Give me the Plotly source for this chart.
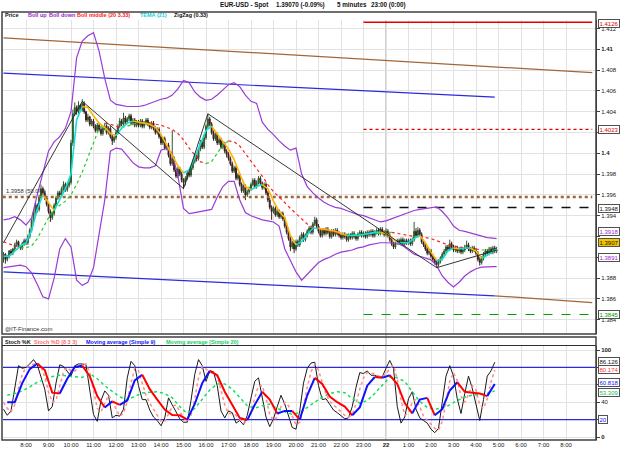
import pandas as pd
import plotly.graph_objects as go

D1 = "2009-10-21"
D2 = "2009-10-22"

# ---------------- price bars (5 minutes, 07:00 day 1 -> 04:55 day 2) ----------------
FIRST_OPEN = 1.3900
CLOSE = [
    1.3903, 1.3898, 1.3901, 1.3906, 1.3904, 1.3908, 1.3912, 1.3915, 1.3911, 1.3909, 1.3913, 1.3916,
    1.3914, 1.3920, 1.3926, 1.3935, 1.3942, 1.3950, 1.3946, 1.3958, 1.3966, 1.3962, 1.3957, 1.3951,
    1.3944, 1.3938, 1.3942, 1.3950, 1.3957, 1.3962, 1.3960, 1.3966, 1.3970, 1.3965, 1.3969, 1.3972,
    1.4010, 1.4038, 1.4044, 1.4040, 1.4046, 1.4042, 1.4048, 1.4040, 1.4032, 1.4035, 1.4028, 1.4031,
    1.4026, 1.4022, 1.4027, 1.4023, 1.4019, 1.4024, 1.4026, 1.4020, 1.4024, 1.4016, 1.4012, 1.4015,
    1.4020, 1.4026, 1.4031, 1.4028, 1.4034, 1.4030, 1.4033, 1.4036, 1.4029, 1.4032, 1.4027, 1.4030,
    1.4027, 1.4031, 1.4026, 1.4029, 1.4032, 1.4028, 1.4025, 1.4029, 1.4024, 1.4020, 1.4023, 1.4016,
    1.4010, 1.4014, 1.4005, 1.4008, 1.3998, 1.3990, 1.3995, 1.3984, 1.3978, 1.3985, 1.3980, 1.3974,
    1.3972, 1.3976, 1.3981, 1.3979, 1.3986, 1.3992, 1.3998, 1.3995, 1.4004, 1.4010, 1.4006, 1.4015,
    1.4026, 1.4033, 1.4028, 1.4020, 1.4014, 1.4018, 1.4010, 1.4013, 1.4006, 1.4009, 1.4002, 1.3999,
    1.3995, 1.3990, 1.3983, 1.3986, 1.3976, 1.3979, 1.3970, 1.3964, 1.3968, 1.3960, 1.3963, 1.3966,
    1.3970, 1.3974, 1.3968, 1.3972, 1.3976, 1.3971, 1.3967, 1.3970, 1.3962, 1.3955, 1.3948, 1.3944,
    1.3947, 1.3941, 1.3944, 1.3939, 1.3942, 1.3937, 1.3930, 1.3924, 1.3918, 1.3910, 1.3914, 1.3908,
    1.3915, 1.3912, 1.3919, 1.3922, 1.3917, 1.3921, 1.3925, 1.3928, 1.3924, 1.3932, 1.3936, 1.3930,
    1.3925, 1.3921, 1.3926, 1.3923, 1.3927, 1.3924, 1.3920, 1.3925, 1.3922, 1.3926, 1.3923, 1.3921,
    1.3919, 1.3922, 1.3920, 1.3917, 1.3921, 1.3919, 1.3923, 1.3920, 1.3918, 1.3922, 1.3924, 1.3921,
    1.3923, 1.3920, 1.3924, 1.3922, 1.3925, 1.3921, 1.3924, 1.3926, 1.3923, 1.3927, 1.3924, 1.3922,
    1.3925, 1.3921, 1.3917, 1.3913, 1.3910, 1.3914, 1.3916, 1.3914, 1.3917, 1.3913, 1.3916, 1.3914,
    1.3916, 1.3913, 1.3917, 1.3925, 1.3921, 1.3926, 1.3922, 1.3915, 1.3912, 1.3908, 1.3904, 1.3906,
    1.3901, 1.3898, 1.3895, 1.3893, 1.3896, 1.3899, 1.3903, 1.3906, 1.3910, 1.3908, 1.3913, 1.3910,
    1.3907, 1.3909, 1.3906, 1.3908, 1.3905, 1.3907, 1.3910, 1.3912, 1.3908, 1.3906, 1.3909, 1.3907,
    1.3904, 1.3898, 1.3895, 1.3899, 1.3903, 1.3906, 1.3904, 1.3908, 1.3905, 1.3909, 1.3906, 1.3907,
]
HIGH = [
    1.3905, 1.3904, 1.3902, 1.3907, 1.3908, 1.3909, 1.3914, 1.3917, 1.3916, 1.3912, 1.3915, 1.3918,
    1.3918, 1.3922, 1.3928, 1.3937, 1.3945, 1.3953, 1.3952, 1.3960, 1.3970, 1.3968, 1.3964, 1.3959,
    1.3953, 1.3946, 1.3944, 1.3952, 1.3959, 1.3964, 1.3964, 1.3968, 1.3973, 1.3972, 1.3971, 1.3975,
    1.4013, 1.4042, 1.4049, 1.4046, 1.4050, 1.4047, 1.4052, 1.4050, 1.4041, 1.4038, 1.4036, 1.4033,
    1.4033, 1.4028, 1.4029, 1.4029, 1.4025, 1.4026, 1.4029, 1.4028, 1.4026, 1.4026, 1.4018, 1.4017,
    1.4022, 1.4028, 1.4034, 1.4033, 1.4039, 1.4036, 1.4035, 1.4038, 1.4038, 1.4034, 1.4034, 1.4032,
    1.4032, 1.4033, 1.4033, 1.4031, 1.4034, 1.4034, 1.4030, 1.4031, 1.4031, 1.4026, 1.4025, 1.4025,
    1.4018, 1.4016, 1.4016, 1.4010, 1.4010, 1.4000, 1.4022, 1.3997, 1.3986, 1.3987, 1.3987, 1.3982,
    1.3976, 1.3978, 1.3983, 1.3983, 1.3988, 1.3994, 1.4000, 1.4000, 1.4006, 1.4013, 1.4012, 1.4018,
    1.4028, 1.4038, 1.4035, 1.4030, 1.4022, 1.4020, 1.4020, 1.4015, 1.4015, 1.4011, 1.4011, 1.4004,
    1.4001, 1.3997, 1.3992, 1.3988, 1.3988, 1.3981, 1.3981, 1.3972, 1.3970, 1.3970, 1.3965, 1.3968,
    1.3972, 1.3976, 1.3976, 1.3974, 1.3978, 1.3978, 1.3973, 1.3972, 1.3972, 1.3964, 1.3957, 1.3950,
    1.3949, 1.3949, 1.3946, 1.3946, 1.3944, 1.3944, 1.3939, 1.3932, 1.3926, 1.3920, 1.3916, 1.3916,
    1.3917, 1.3917, 1.3921, 1.3924, 1.3924, 1.3923, 1.3927, 1.3930, 1.3930, 1.3934, 1.3939, 1.3938,
    1.3932, 1.3927, 1.3928, 1.3928, 1.3929, 1.3929, 1.3926, 1.3927, 1.3927, 1.3928, 1.3928, 1.3925,
    1.3923, 1.3924, 1.3924, 1.3922, 1.3923, 1.3923, 1.3925, 1.3925, 1.3922, 1.3924, 1.3926, 1.3926,
    1.3925, 1.3925, 1.3926, 1.3926, 1.3927, 1.3927, 1.3926, 1.3928, 1.3928, 1.3929, 1.3929, 1.3926,
    1.3928, 1.3927, 1.3923, 1.3919, 1.3915, 1.3916, 1.3918, 1.3918, 1.3919, 1.3919, 1.3918, 1.3918,
    1.3918, 1.3918, 1.3919, 1.3934, 1.3928, 1.3929, 1.3928, 1.3924, 1.3917, 1.3914, 1.3910, 1.3908,
    1.3908, 1.3903, 1.3900, 1.3897, 1.3898, 1.3901, 1.3905, 1.3908, 1.3912, 1.3912, 1.3917, 1.3915,
    1.3912, 1.3911, 1.3911, 1.3910, 1.3910, 1.3909, 1.3912, 1.3916, 1.3914, 1.3910, 1.3911, 1.3911,
    1.3909, 1.3906, 1.3900, 1.3901, 1.3905, 1.3908, 1.3908, 1.3910, 1.3910, 1.3911, 1.3911, 1.3910,
]
LOW = [
    1.3895, 1.3894, 1.3896, 1.3899, 1.3902, 1.3902, 1.3906, 1.3910, 1.3909, 1.3907, 1.3907, 1.3911,
    1.3912, 1.3912, 1.3918, 1.3924, 1.3933, 1.3940, 1.3943, 1.3944, 1.3956, 1.3960, 1.3955, 1.3949,
    1.3942, 1.3934, 1.3936, 1.3940, 1.3948, 1.3955, 1.3958, 1.3958, 1.3964, 1.3963, 1.3963, 1.3967,
    1.3970, 1.4007, 1.4036, 1.4037, 1.4038, 1.4040, 1.4040, 1.4038, 1.4030, 1.4030, 1.4026, 1.4026,
    1.4024, 1.4020, 1.4020, 1.4021, 1.4017, 1.4017, 1.4022, 1.4018, 1.4018, 1.4014, 1.4008, 1.4010,
    1.4013, 1.4018, 1.4024, 1.4026, 1.4026, 1.4028, 1.4028, 1.4031, 1.4027, 1.4027, 1.4025, 1.4025,
    1.4025, 1.4025, 1.4024, 1.4024, 1.4027, 1.4026, 1.4023, 1.4023, 1.4022, 1.4018, 1.4018, 1.4014,
    1.4008, 1.4008, 1.4003, 1.4003, 1.3996, 1.3988, 1.3988, 1.3982, 1.3976, 1.3976, 1.3978, 1.3972,
    1.3966, 1.3969, 1.3974, 1.3977, 1.3977, 1.3984, 1.3990, 1.3992, 1.3993, 1.4002, 1.4004, 1.4004,
    1.4013, 1.4024, 1.4026, 1.4018, 1.4012, 1.4012, 1.4008, 1.4008, 1.4004, 1.4004, 1.4000, 1.3996,
    1.3993, 1.3988, 1.3981, 1.3981, 1.3974, 1.3974, 1.3968, 1.3962, 1.3962, 1.3955, 1.3958, 1.3961,
    1.3964, 1.3968, 1.3966, 1.3966, 1.3970, 1.3969, 1.3965, 1.3965, 1.3960, 1.3953, 1.3946, 1.3936,
    1.3942, 1.3939, 1.3939, 1.3937, 1.3937, 1.3935, 1.3928, 1.3922, 1.3916, 1.3906, 1.3908, 1.3904,
    1.3906, 1.3910, 1.3910, 1.3917, 1.3915, 1.3915, 1.3919, 1.3923, 1.3922, 1.3922, 1.3930, 1.3928,
    1.3923, 1.3919, 1.3919, 1.3921, 1.3921, 1.3922, 1.3918, 1.3918, 1.3920, 1.3920, 1.3921, 1.3919,
    1.3917, 1.3917, 1.3918, 1.3915, 1.3915, 1.3917, 1.3917, 1.3918, 1.3916, 1.3916, 1.3920, 1.3919,
    1.3919, 1.3918, 1.3918, 1.3920, 1.3920, 1.3919, 1.3919, 1.3922, 1.3921, 1.3921, 1.3922, 1.3920,
    1.3920, 1.3919, 1.3915, 1.3911, 1.3908, 1.3908, 1.3912, 1.3912, 1.3912, 1.3911, 1.3911, 1.3912,
    1.3912, 1.3911, 1.3911, 1.3915, 1.3919, 1.3919, 1.3920, 1.3913, 1.3910, 1.3906, 1.3902, 1.3902,
    1.3899, 1.3896, 1.3893, 1.3890, 1.3891, 1.3894, 1.3897, 1.3901, 1.3904, 1.3906, 1.3906, 1.3908,
    1.3905, 1.3905, 1.3904, 1.3904, 1.3903, 1.3903, 1.3905, 1.3908, 1.3906, 1.3904, 1.3904, 1.3905,
    1.3902, 1.3896, 1.3892, 1.3893, 1.3897, 1.3901, 1.3902, 1.3902, 1.3903, 1.3903, 1.3904, 1.3904,
]

# ---------------- price indicators (every 15 minutes + last bar) ----------------
BOLL_UP = [
    1.3936, 1.3937, 1.3939, 1.3936, 1.3931, 1.3938, 1.3960, 1.3982, 1.4002, 1.4011,
    1.4016, 1.4024, 1.4040, 1.4092, 1.4108, 1.4113, 1.4116, 1.4098, 1.4072, 1.4051,
    1.4047, 1.4046, 1.4045, 1.4045, 1.4045, 1.4046, 1.4048, 1.4050, 1.4052, 1.4053,
    1.4056, 1.4062, 1.4070, 1.4068, 1.4059, 1.4054, 1.4051, 1.4052, 1.4056, 1.4061,
    1.4066, 1.4068, 1.4064, 1.4056, 1.4050, 1.4048, 1.4030, 1.4023, 1.4018, 1.4012,
    1.4007, 1.4003, 1.4005, 1.3980, 1.3968, 1.3962, 1.3957, 1.3953, 1.3950, 1.3948,
    1.3947, 1.3945, 1.3943, 1.3941, 1.3940, 1.3938, 1.3936, 1.3934, 1.3935, 1.3937,
    1.3939, 1.3941, 1.3943, 1.3945, 1.3946, 1.3947, 1.3948, 1.39485, 1.3944, 1.3938,
    1.3930, 1.3926, 1.3925, 1.39235, 1.3922, 1.3920, 1.3919, 1.39185, 1.3918,
]
BOLL_DN = [
    1.3890, 1.3891, 1.3892, 1.38925, 1.3891, 1.3885, 1.3874, 1.3862, 1.3860, 1.3880,
    1.3908, 1.3918, 1.3910, 1.3878, 1.3873, 1.3876, 1.3890, 1.3922, 1.3955, 1.4002,
    1.4005, 1.4004, 1.3997, 1.3991, 1.3987, 1.3986, 1.3986, 1.3988, 1.4003, 1.4005,
    1.4000, 1.3978, 1.3947, 1.3942, 1.3943, 1.3944, 1.3945, 1.3946, 1.3958, 1.3968,
    1.3973, 1.3973, 1.3955, 1.3943, 1.3940, 1.3938, 1.3936, 1.3935, 1.3934, 1.3930,
    1.3908, 1.3897, 1.3886, 1.3878, 1.3884, 1.3890, 1.3895, 1.3898, 1.3900, 1.3903,
    1.3905, 1.3906, 1.3907, 1.3909, 1.3910, 1.3912, 1.3913, 1.3914, 1.3914, 1.3914,
    1.39135, 1.3911, 1.3907, 1.3903, 1.3901, 1.3899, 1.38975, 1.3892, 1.3882, 1.3876,
    1.38715, 1.3876, 1.3882, 1.3886, 1.3889, 1.38905, 1.3891, 1.3891, 1.3891,
]
BOLL_MID = [
    1.3915, 1.3913, 1.3911, 1.3909, 1.3909, 1.3911, 1.3918, 1.3928, 1.3938, 1.3946,
    1.3950, 1.3954, 1.3960, 1.3970, 1.3982, 1.3996, 1.4010, 1.4024, 1.4029, 1.4028,
    1.4026, 1.4025, 1.4026, 1.4028, 1.4029, 1.4029, 1.4029, 1.4028, 1.4027, 1.4025,
    1.4023, 1.4019, 1.4013, 1.4005, 1.3998, 1.3992, 1.3990, 1.3992, 1.4000, 1.4008,
    1.4012, 1.4011, 1.4007, 1.4000, 1.3993, 1.3986, 1.3978, 1.3970, 1.3963, 1.3958,
    1.3952, 1.3947, 1.3942, 1.3937, 1.3932, 1.3929, 1.3927, 1.3926, 1.3925, 1.3924,
    1.3923, 1.3922, 1.3922, 1.3922, 1.3922, 1.3923, 1.3923, 1.3923, 1.3924, 1.3924,
    1.3923, 1.3922, 1.3921, 1.3920, 1.3920, 1.3919, 1.3918, 1.3916, 1.3914, 1.3912,
    1.3911, 1.3910, 1.3909, 1.3908, 1.3908, 1.3907, 1.3907, 1.3907, 1.3907,
]
TEMA = [
    1.3901, 1.3901, 1.3906, 1.3911, 1.3914, 1.3926, 1.3946, 1.3960, 1.3952, 1.3945,
    1.3956, 1.3966, 1.3980, 1.4032, 1.4045, 1.4044, 1.4036, 1.4029, 1.4025, 1.4019,
    1.4017, 1.4024, 1.4029, 1.4031, 1.4030, 1.4029, 1.4028, 1.4025, 1.4018, 1.4008,
    1.3998, 1.3988, 1.3981, 1.3984, 1.3996, 1.4010, 1.4022, 1.4026, 1.4019, 1.4011,
    1.4004, 1.3994, 1.3980, 1.3968, 1.3965, 1.3968, 1.3970, 1.3966, 1.3954, 1.3944,
    1.3938, 1.3921, 1.3912, 1.3915, 1.3922, 1.3928, 1.3928, 1.3927, 1.3926, 1.3925,
    1.3923, 1.3921, 1.3921, 1.3921, 1.3922, 1.3923, 1.3924, 1.3924, 1.3923, 1.3919,
    1.3914, 1.3914, 1.3914, 1.3918, 1.3921, 1.3914, 1.3905, 1.3897, 1.3898, 1.3906,
    1.3909, 1.3908, 1.3909, 1.3909, 1.3906, 1.3899, 1.3902, 1.3906, 1.3907,
]
ZIGZAG_T = [f"{D1} 07:00", f"{D1} 10:30", f"{D1} 15:00", f"{D1} 16:05", f"{D2} 02:15", f"{D2} 04:55"]
ZIGZAG_V = [1.3914, 1.4050, 1.3966, 1.4038, 1.3890, 1.3907]

# regression channel lines (start/end time, start/end price)
CHANNELS = [
    ([f"{D1} 07:00", f"{D2} 09:10"], [1.4111, 1.40775], "#a0663a"),
    ([f"{D2} 04:50", f"{D2} 09:10"], [1.3863, 1.38565], "#a0663a"),
    ([f"{D1} 07:00", f"{D2} 04:50"], [1.4077, 1.4054], "#2a2ae0"),
    ([f"{D1} 07:00", f"{D2} 04:50"], [1.3886, 1.3863], "#2a2ae0"),
]
# horizontal levels: value, start time, color, dash, width
LEVELS = [
    (1.4126, f"{D1} 23:00", "#e00000", "solid", 1.3),
    (1.4023, f"{D1} 23:00", "#e00000", "dot", 1.3),
    (1.3948, f"{D1} 23:00", "#101010", "dash", 1.5),
    (1.3845, f"{D1} 23:00", "#00a000", "dash", 1.2),
    (1.3958, f"{D1} 06:58", "#a0663a", "dot", 2.5),
]
LEVEL_END = f"{D2} 09:10"

# ---------------- stochastic panel ----------------
STOCH_K = [32, 25, 30, 55, 82, 79, 80, 84, 89, 83, 70, 55, 30, 35, 62, 83, 81, 76, 70, 82,
           84, 84, 83, 54, 26, 18, 42, 53, 48, 22, 25, 24, 32, 68, 87, 82, 59, 43, 43, 31,
           23, 19, 13, 22, 45, 37, 29, 21, 17, 17, 42, 72, 89, 82, 64, 76, 75, 59, 30, 22,
           30, 28, 16, 19, 14, 25, 45, 64, 68, 44, 23, 12, 21, 35, 48, 38, 23, 11, 9, 30,
           62, 79, 85, 86, 59, 43, 44, 37, 31, 28, 25, 21, 22, 35, 57, 74, 73, 76, 71, 71,
           69, 69, 79, 88, 79, 35, 16, 23, 44, 52, 32, 22, 19, 16, 9, 5, 10, 40, 70, 82,
           70, 44, 27, 50, 70, 56, 37, 19, 43, 70, 76, 86]
STOCH_D = [40, 33, 29, 37, 56, 72, 80, 81, 84, 85, 81, 69, 52, 40, 42, 60, 75, 80, 76, 76,
           79, 83, 84, 74, 54, 33, 29, 38, 48, 41, 32, 24, 27, 41, 62, 79, 76, 61, 48, 39,
           32, 24, 18, 18, 27, 35, 37, 29, 22, 18, 25, 44, 68, 81, 78, 74, 72, 70, 55, 37,
           27, 27, 25, 21, 16, 19, 28, 45, 59, 59, 45, 26, 19, 23, 35, 40, 36, 24, 14, 17,
           34, 57, 75, 83, 77, 63, 49, 41, 37, 32, 28, 25, 23, 26, 38, 55, 68, 74, 73, 73,
           70, 70, 72, 79, 82, 67, 43, 25, 28, 40, 43, 35, 24, 19, 15, 10, 8, 18, 40, 64,
           74, 65, 47, 40, 49, 59, 54, 37, 33, 44, 63, 77]
MA9 = [40, 40, 62, 78, 84.5, 77, 51, 50, 67, 80.5, 82, 70, 47, 34, 41, 37, 42, 65, 71.5, 55,
       43, 31.5, 25.3, 25, 20, 38, 62, 76, 71, 52, 37, 22, 19.5, 37, 52, 43, 27, 30, 30, 20,
       48, 68, 61, 46.5, 40, 35, 25, 34, 59, 69, 68, 71, 61, 39, 27.2, 43, 45, 25, 32, 53.5,
       63, 52, 51, 50, 47, 61]
MA20 = [48, 50, 53, 57.5, 63, 66, 69.5, 71, 70, 69, 68.5, 73, 67, 59, 52, 46, 43, 47, 50.5, 51.5,
        52, 50, 45, 35, 27, 33, 44, 54, 61, 61, 55, 46, 36, 33, 36, 38, 33, 29, 26, 28,
        34, 40, 46, 50, 52, 51, 44, 39, 42, 50, 60, 69, 68, 64, 52, 41, 34, 32, 33, 37,
        42, 46, 48, 49, 50, 53]
STOCH_LEVELS = [80, 20]

# tick labels (labels hidden behind value boxes are left blank, as in the reference)
PRICE_TICKS = [1.384, 1.386, 1.388, 1.390, 1.392, 1.394, 1.396, 1.398, 1.400, 1.402,
               1.404, 1.406, 1.408, 1.410, 1.412]
PRICE_LABELS = ["1.384", "1.386", "1.388", "", "", "1.394", "1.396", "1.398", "<b>1.4</b>",
                "", "1.404", "1.406", "1.408", "<b>1.41</b>", "1.412"]
STOCH_TICKS = [0, 20, 40, 60, 80, 100]
STOCH_LABELS = ["<b>0</b>", "", "40", "", "", "<b>100</b>"]
HOUR_LABELS = ["8:00", "9:00", "10:00", "11:00", "12:00", "13:00", "14:00", "15:00", "16:00",
               "17:00", "18:00", "19:00", "20:00", "21:00", "22:00", "23:00", "<b>22</b>",
               "1:00", "2:00", "3:00", "4:00", "5:00", "6:00", "7:00", "8:00"]

# ---------------- build ----------------
BAR_T = pd.date_range(f"{D1} 07:00", periods=len(CLOSE), freq="5min")
OPEN = [FIRST_OPEN] + CLOSE[:-1]
IND_T = list(pd.date_range(f"{D1} 07:00", periods=len(BOLL_UP) - 1, freq="15min")) + [BAR_T[-1]]
K_T = pd.date_range(f"{D1} 07:00", periods=len(STOCH_K), freq="10min")
MA_T = pd.date_range(f"{D1} 07:10", periods=len(MA9), freq="20min")
HOUR_T = pd.date_range(f"{D1} 08:00", periods=len(HOUR_LABELS), freq="h")
X_RANGE = [f"{D1} 06:58:40", f"{D2} 09:20"]

W, H = 625, 455
def px(x):
    return x / W
def py(y):
    return 1 - y / H

FONT = "Arial, Liberation Sans, sans-serif"
fig = go.Figure()

def line(x, y, color, width=1, dash="solid", ax="2"):
    fig.add_trace(go.Scatter(x=x, y=y, mode="lines", line=dict(color=color, width=width, dash=dash),
                             xaxis="x" + ("2" if ax == "2" else ""), yaxis="y" + ("2" if ax == "2" else ""),
                             hoverinfo="skip", showlegend=False))

def dir_line(t, v, up, down, width, dash, ax):
    t = list(t)
    cur, xs, ys = None, [], []
    for i in range(len(v) - 1):
        col = up if v[i + 1] >= v[i] else down
        if col != cur:
            if xs:
                line(xs, ys, cur, width, dash, ax)
            cur, xs, ys = col, [t[i]], [v[i]]
        xs.append(t[i + 1]); ys.append(v[i + 1])
    if xs:
        line(xs, ys, cur, width, dash, ax)

for ts, vs, col in CHANNELS:
    line(ts, vs, col, 1.2)
for val, start, col, dash, wdt in LEVELS:
    line([start, LEVEL_END], [val, val], col, wdt, dash)

fig.add_trace(go.Candlestick(
    x=BAR_T, open=OPEN, high=HIGH, low=LOW, close=CLOSE, xaxis="x2", yaxis="y2",
    increasing=dict(line=dict(color="#2d5a2d", width=1), fillcolor="#1e7a1e"),
    decreasing=dict(line=dict(color="#3a2020", width=1), fillcolor="#5a0f0f"),
    whiskerwidth=0, showlegend=False, hoverinfo="skip"))

line(IND_T, BOLL_UP, "#9a3bd6", 1.2)
line(IND_T, BOLL_DN, "#9a3bd6", 1.2)
dir_line(IND_T, BOLL_MID, "#22cc22", "#ff2020", 1.2, "dot", "2")
dir_line(IND_T, TEMA, "#10e0d8", "#ffb400", 1.6, "solid", "2")
line(ZIGZAG_T, ZIGZAG_V, "#202020", 0.9)

for lv in STOCH_LEVELS:
    line(X_RANGE, [lv, lv], "#2a2ae0", 1.2, "solid", "1")
line(list(K_T), STOCH_K, "#1a1a1a", 1, "solid", "1")
line(list(K_T), STOCH_D, "#ff8a8a", 1.5, "dot", "1")
line(list(MA_T), MA20, "#10e060", 1.5, "dot", "1")
dir_line(MA_T, MA9, "#1010ff", "#ff0000", 2, "solid", "1")

grid = "#e2e2e2"
fig.update_layout(
    width=W, height=H, margin=dict(l=0, r=0, t=0, b=0),
    paper_bgcolor="white", plot_bgcolor="white", showlegend=False,
    font=dict(family=FONT, size=6, color="#202020"),
    xaxis=dict(domain=[px(3), px(596)], range=X_RANGE, anchor="y", tickvals=HOUR_T, ticktext=HOUR_LABELS,
               showgrid=True, gridcolor=grid, gridwidth=1, ticks="", tickfont=dict(size=6),
               zeroline=False, showline=False),
    xaxis2=dict(domain=[px(3), px(596)], matches="x", anchor="y2", tickvals=HOUR_T, showticklabels=False,
                showgrid=True, gridcolor=grid, gridwidth=1, ticks="", zeroline=False, showline=False,
                rangeslider=dict(visible=False)),
    yaxis=dict(domain=[py(440), py(346)], range=[-3.4, 104.6], side="right", anchor="x",
               tickvals=STOCH_TICKS, ticktext=STOCH_LABELS, ticks="outside", ticklen=3, tickcolor="#404040",
               showline=True, linecolor="#404040", linewidth=1, showgrid=True, gridcolor=grid,
               zeroline=False, tickfont=dict(size=6)),
    yaxis2=dict(domain=[py(334), py(20)], range=[1.382625, 1.412817], side="right", anchor="x2",
                tickvals=PRICE_TICKS, ticktext=PRICE_LABELS, ticks="outside", ticklen=3, tickcolor="#404040",
                showline=True, linecolor="#404040", linewidth=1, showgrid=True, gridcolor=grid,
                zeroline=False, tickfont=dict(size=6)),
)

shapes = [
    dict(type="line", xref="x", yref="paper", x0=f"{D2} 00:00", x1=f"{D2} 00:00", y0=py(440), y1=py(20),
         line=dict(color="#a0a0a0", width=1), layer="below"),
    dict(type="rect", xref="paper", yref="paper", x0=px(2), x1=px(596), y0=py(334), y1=py(12),
         line=dict(color="#404040", width=1.5)),
    dict(type="rect", xref="paper", yref="paper", x0=px(2), x1=px(596), y0=py(440), y1=py(337),
         line=dict(color="#404040", width=1.5)),
    dict(type="line", xref="paper", yref="paper", x0=px(2), x1=px(596), y0=py(345.5), y1=py(345.5),
         line=dict(color="#303030", width=1.2)),
]
fig.update_layout(shapes=shapes)

ann = []
def text(x, y, s, color="#202020", size=6, bold=False):
    ann.append(dict(x=px(x), y=py(y), xref="paper", yref="paper", text=f"<b>{s}</b>" if bold else s,
                    showarrow=False, xanchor="left", yanchor="middle",
                    font=dict(family=FONT, size=size, color=color)))

text(218, 5, "EUR-USD - Spot", "#111", 6.3, True)
text(274, 5, "1.39070 (-0.09%)", "#111", 6.3, True)
text(335, 5, "5 minutes", "#111", 6.3, True)
text(369, 5, "23:00 (0:00)", "#111", 6.3, True)
for s, x, c in [("Price", 3, "#111"), ("Boll up", 26, "#9a1fd0"), ("Boll down", 47, "#9a1fd0"),
                ("Boll middle (20 3.33)", 75, "#ff2020"), ("TEMA (21)", 138, "#10d0d0"),
                ("ZigZag (0.33)", 172, "#111")]:
    text(x, 15.5, s, c, 5.5, True)
for s, x, c in [("Stoch %K", 3, "#111"), ("Stoch %D (8 3 3)", 32, "#ff6a6a"),
                ("Moving average (Simple 9)", 84, "#1010ff"), ("Moving average (Simple 20)", 164, "#10d060")]:
    text(x, 341.5, s, c, 5.5, True)
text(3, 329, "@IT-Finance.com", "#303030", 6)
ann.append(dict(x=px(4), y=1.3958, xref="paper", yref="y2", text="1.3958 (50.0%)", showarrow=False,
                xanchor="left", yanchor="bottom", yshift=1, font=dict(family=FONT, size=5.8, color="#303030")))

def box(val, s, color, yref, yshift=0, bg="white"):
    ann.append(dict(x=px(598), y=val, xref="paper", yref=yref, text=s, showarrow=False, xanchor="left",
                    yanchor="middle", yshift=yshift, bgcolor=bg, bordercolor="#505050", borderwidth=1,
                    borderpad=0.5, font=dict(family=FONT, size=6, color=color)))

box(1.4126, "1.4126", "#e00000", "y2", -1)
box(1.4023, "1.4023", "#e00000", "y2")
box(1.3948, "1.3948", "#111", "y2", -1)
box(1.3918, "1.3918", "#9a1fd0", "y2", 7)
box(1.3907, "1.3907", "#111", "y2", 7.5, "#f5c400")
box(1.3891, "1.3891", "#9a1fd0", "y2", 9)
box(1.3845, "1.3845", "#00a000", "y2")
box(80.174, "80.174", "#ff3030", "y", -2.5)
box(86.126, "86.126", "#111", "y", 1)
box(60.818, "60.818", "#1010ff", "y", 1.5)
box(53.309, "53.309", "#10c050", "y", -1.5)
box(20, "20", "#1010ff", "y")

fig.update_layout(annotations=ann)
fig.write_html("out.html")
